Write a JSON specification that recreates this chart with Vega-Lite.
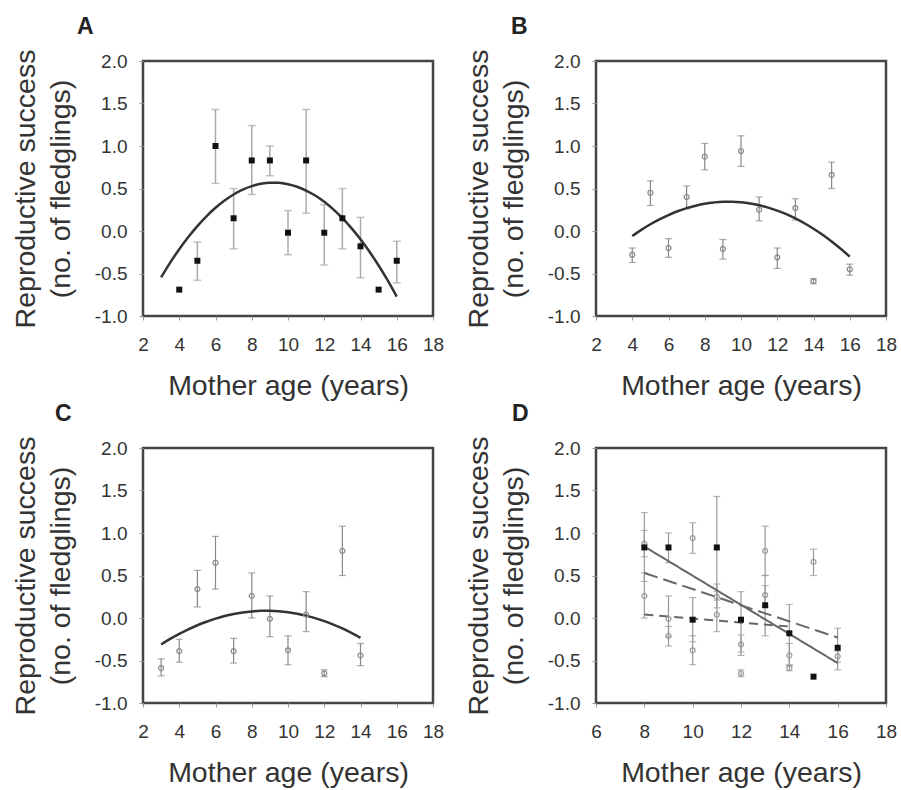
{
  "$schema": "https://vega.github.io/schema/vega-lite/v6.json",
  "background": "white",
  "padding": {"left": 10, "top": 14, "right": 5, "bottom": 2},
  "config": {
    "font": "Liberation Sans",
    "view": {"stroke": "#444", "strokeWidth": 2.5},
    "axis": {"grid": false, "domain": false, "ticks": true, "tickSize": 4, "tickColor": "#999", "labelFontSize": 19, "labelColor": "#333", "titleFontSize": 28.5, "titleFontWeight": "normal", "titleColor": "#333", "labelPadding": 12, "labelFont": "Liberation Sans", "titleFont": "Liberation Sans", "labelFlush": false, "labelOverlap": false},
    "axisY": {"titlePadding": 19, "titleLineHeight": 35, "labelExpr": "replace(datum.label, '\u2212', '-')"},
    "axisX": {"titlePadding": 17, "labelPadding": 15},
    "title": {"fontSize": 23, "fontWeight": "bold", "color": "#222", "anchor": "start", "frame": "group", "baseline": "alphabetic", "offset": 10}
  },
  "datasets": {
    "pts": [
      {"g": "A", "age": 4, "y": -0.69, "lo": -0.69, "hi": -0.69},
      {"g": "A", "age": 5, "y": -0.35, "lo": -0.58, "hi": -0.13},
      {"g": "A", "age": 6, "y": 1.0, "lo": 0.56, "hi": 1.43},
      {"g": "A", "age": 7, "y": 0.15, "lo": -0.21, "hi": 0.5},
      {"g": "A", "age": 8, "y": 0.83, "lo": 0.43, "hi": 1.24},
      {"g": "A", "age": 9, "y": 0.83, "lo": 0.65, "hi": 1.0},
      {"g": "A", "age": 10, "y": -0.02, "lo": -0.28, "hi": 0.24},
      {"g": "A", "age": 11, "y": 0.83, "lo": 0.21, "hi": 1.43},
      {"g": "A", "age": 12, "y": -0.02, "lo": -0.4, "hi": 0.31},
      {"g": "A", "age": 13, "y": 0.15, "lo": -0.21, "hi": 0.5},
      {"g": "A", "age": 14, "y": -0.18, "lo": -0.55, "hi": 0.16},
      {"g": "A", "age": 15, "y": -0.69, "lo": -0.69, "hi": -0.69},
      {"g": "A", "age": 16, "y": -0.35, "lo": -0.61, "hi": -0.12},
      {"g": "B", "age": 4, "y": -0.28, "lo": -0.37, "hi": -0.2},
      {"g": "B", "age": 5, "y": 0.45, "lo": 0.3, "hi": 0.59},
      {"g": "B", "age": 6, "y": -0.2, "lo": -0.31, "hi": -0.09},
      {"g": "B", "age": 7, "y": 0.4, "lo": 0.26, "hi": 0.53},
      {"g": "B", "age": 8, "y": 0.875, "lo": 0.72, "hi": 1.03},
      {"g": "B", "age": 9, "y": -0.21, "lo": -0.33, "hi": -0.1},
      {"g": "B", "age": 10, "y": 0.94, "lo": 0.76, "hi": 1.12},
      {"g": "B", "age": 11, "y": 0.25, "lo": 0.12, "hi": 0.4},
      {"g": "B", "age": 12, "y": -0.31, "lo": -0.44, "hi": -0.2},
      {"g": "B", "age": 13, "y": 0.27, "lo": 0.13, "hi": 0.38},
      {"g": "B", "age": 14, "y": -0.59, "lo": -0.62, "hi": -0.56},
      {"g": "B", "age": 15, "y": 0.66, "lo": 0.5, "hi": 0.81},
      {"g": "B", "age": 16, "y": -0.45, "lo": -0.52, "hi": -0.39},
      {"g": "C", "age": 3, "y": -0.59, "lo": -0.68, "hi": -0.48},
      {"g": "C", "age": 4, "y": -0.39, "lo": -0.52, "hi": -0.25},
      {"g": "C", "age": 5, "y": 0.34, "lo": 0.13, "hi": 0.56},
      {"g": "C", "age": 6, "y": 0.65, "lo": 0.34, "hi": 0.96},
      {"g": "C", "age": 7, "y": -0.39, "lo": -0.53, "hi": -0.24},
      {"g": "C", "age": 8, "y": 0.26, "lo": 0.0, "hi": 0.53},
      {"g": "C", "age": 9, "y": -0.01, "lo": -0.22, "hi": 0.26},
      {"g": "C", "age": 10, "y": -0.38, "lo": -0.55, "hi": -0.21},
      {"g": "C", "age": 11, "y": 0.04, "lo": -0.16, "hi": 0.31},
      {"g": "C", "age": 12, "y": -0.65, "lo": -0.69, "hi": -0.61},
      {"g": "C", "age": 13, "y": 0.79, "lo": 0.5, "hi": 1.08},
      {"g": "C", "age": 14, "y": -0.44, "lo": -0.56, "hi": -0.3}
    ],
    "curves": [
      {"g": "A", "age": 3, "y": -0.545}, {"g": "A", "age": 3.5, "y": -0.372}, {"g": "A", "age": 4, "y": -0.214}, {"g": "A", "age": 4.5, "y": -0.071},
      {"g": "A", "age": 5, "y": 0.058}, {"g": "A", "age": 5.5, "y": 0.173}, {"g": "A", "age": 6, "y": 0.273}, {"g": "A", "age": 6.5, "y": 0.359},
      {"g": "A", "age": 7, "y": 0.43}, {"g": "A", "age": 7.5, "y": 0.486}, {"g": "A", "age": 8, "y": 0.528}, {"g": "A", "age": 8.5, "y": 0.556},
      {"g": "A", "age": 9, "y": 0.569}, {"g": "A", "age": 9.5, "y": 0.567}, {"g": "A", "age": 10, "y": 0.551}, {"g": "A", "age": 10.5, "y": 0.521},
      {"g": "A", "age": 11, "y": 0.476}, {"g": "A", "age": 11.5, "y": 0.417}, {"g": "A", "age": 12, "y": 0.343}, {"g": "A", "age": 12.5, "y": 0.254},
      {"g": "A", "age": 13, "y": 0.151}, {"g": "A", "age": 13.5, "y": 0.034}, {"g": "A", "age": 14, "y": -0.098}, {"g": "A", "age": 14.5, "y": -0.245},
      {"g": "A", "age": 15, "y": -0.406}, {"g": "A", "age": 15.5, "y": -0.581}, {"g": "A", "age": 16, "y": -0.771},
      {"g": "B", "age": 4, "y": -0.06}, {"g": "B", "age": 4.5, "y": 0.013}, {"g": "B", "age": 5, "y": 0.079}, {"g": "B", "age": 5.5, "y": 0.137},
      {"g": "B", "age": 6, "y": 0.188}, {"g": "B", "age": 6.5, "y": 0.232}, {"g": "B", "age": 7, "y": 0.269}, {"g": "B", "age": 7.5, "y": 0.298},
      {"g": "B", "age": 8, "y": 0.321}, {"g": "B", "age": 8.5, "y": 0.336}, {"g": "B", "age": 9, "y": 0.344}, {"g": "B", "age": 9.5, "y": 0.344},
      {"g": "B", "age": 10, "y": 0.338}, {"g": "B", "age": 10.5, "y": 0.324}, {"g": "B", "age": 11, "y": 0.303}, {"g": "B", "age": 11.5, "y": 0.275},
      {"g": "B", "age": 12, "y": 0.24}, {"g": "B", "age": 12.5, "y": 0.198}, {"g": "B", "age": 13, "y": 0.148}, {"g": "B", "age": 13.5, "y": 0.091},
      {"g": "B", "age": 14, "y": 0.027}, {"g": "B", "age": 14.5, "y": -0.044}, {"g": "B", "age": 15, "y": -0.123}, {"g": "B", "age": 15.5, "y": -0.209},
      {"g": "B", "age": 16, "y": -0.301},
      {"g": "C", "age": 3, "y": -0.312}, {"g": "C", "age": 3.5, "y": -0.246}, {"g": "C", "age": 4, "y": -0.187}, {"g": "C", "age": 4.5, "y": -0.133},
      {"g": "C", "age": 5, "y": -0.085}, {"g": "C", "age": 5.5, "y": -0.044}, {"g": "C", "age": 6, "y": -0.008}, {"g": "C", "age": 6.5, "y": 0.023},
      {"g": "C", "age": 7, "y": 0.047}, {"g": "C", "age": 7.5, "y": 0.065}, {"g": "C", "age": 8, "y": 0.077}, {"g": "C", "age": 8.5, "y": 0.084},
      {"g": "C", "age": 9, "y": 0.085}, {"g": "C", "age": 9.5, "y": 0.079}, {"g": "C", "age": 10, "y": 0.068}, {"g": "C", "age": 10.5, "y": 0.051},
      {"g": "C", "age": 11, "y": 0.028}, {"g": "C", "age": 11.5, "y": -0.001}, {"g": "C", "age": 12, "y": -0.036}, {"g": "C", "age": 12.5, "y": -0.077},
      {"g": "C", "age": 13, "y": -0.123}, {"g": "C", "age": 13.5, "y": -0.176}, {"g": "C", "age": 14, "y": -0.234}
    ],
    "lines": [
      {"g": "A", "age": 8, "y": 0.84}, {"g": "A", "age": 16, "y": -0.53},
      {"g": "B", "age": 8, "y": 0.53}, {"g": "B", "age": 16, "y": -0.23},
      {"g": "C", "age": 8, "y": 0.04}, {"g": "C", "age": 14, "y": -0.1}
    ]
  },
  "columns": 2,
  "spacing": {"row": 0, "column": 18},
  "concat": [
    {
      "width": 290, "height": 255,
      "title": {"text": "A", "dx": -66},
      "encoding": {
        "x": {"field": "age", "type": "quantitative", "scale": {"domain": [2, 18], "nice": false}, "axis": {"values": [2, 4, 6, 8, 10, 12, 14, 16, 18], "title": "Mother age (years)"}},
        "y": {"field": "y", "type": "quantitative", "scale": {"domain": [-1, 2], "nice": false}, "axis": {"values": [-1, -0.5, 0, 0.5, 1, 1.5, 2], "format": ".1f", "title": ["Reproductive success", "(no. of fledglings)"]}}
      },
      "layer": [
        {"data": {"name": "pts"}, "transform": [{"filter": "datum.g == 'A' && datum.hi > datum.lo"}], "mark": {"type": "rule", "color": "#aaa", "strokeWidth": 1.5}, "encoding": {"y": {"field": "lo", "type": "quantitative"}, "y2": {"field": "hi"}}},
        {"data": {"name": "pts"}, "transform": [{"filter": "datum.g == 'A' && datum.hi > datum.lo"}], "mark": {"type": "tick", "orient": "horizontal", "color": "#aaa", "size": 8, "thickness": 1.5}, "encoding": {"y": {"field": "lo", "type": "quantitative"}}},
        {"data": {"name": "pts"}, "transform": [{"filter": "datum.g == 'A' && datum.hi > datum.lo"}], "mark": {"type": "tick", "orient": "horizontal", "color": "#aaa", "size": 8, "thickness": 1.5}, "encoding": {"y": {"field": "hi", "type": "quantitative"}}},
        {"data": {"name": "curves"}, "transform": [{"filter": "datum.g == 'A'"}], "mark": {"type": "line", "color": "#333", "strokeWidth": 2.5, "interpolate": "monotone"}, "encoding": {}},
        {"data": {"name": "pts"}, "transform": [{"filter": "datum.g == 'A'"}], "mark": {"type": "square", "color": "#111", "size": 36, "opacity": 1}, "encoding": {}}
      ]
    },
    {
      "width": 290, "height": 255,
      "title": {"text": "B", "dx": -85},
      "encoding": {
        "x": {"field": "age", "type": "quantitative", "scale": {"domain": [2, 18], "nice": false}, "axis": {"values": [2, 4, 6, 8, 10, 12, 14, 16, 18], "title": "Mother age (years)"}},
        "y": {"field": "y", "type": "quantitative", "scale": {"domain": [-1, 2], "nice": false}, "axis": {"values": [-1, -0.5, 0, 0.5, 1, 1.5, 2], "format": ".1f", "title": ["Reproductive success", "(no. of fledglings)"]}}
      },
      "layer": [
        {"data": {"name": "pts"}, "transform": [{"filter": "datum.g == 'B'"}], "mark": {"type": "rule", "color": "#888", "strokeWidth": 1.2}, "encoding": {"y": {"field": "lo", "type": "quantitative"}, "y2": {"field": "hi"}}},
        {"data": {"name": "pts"}, "transform": [{"filter": "datum.g == 'B'"}], "mark": {"type": "tick", "orient": "horizontal", "color": "#888", "size": 7, "thickness": 1.2}, "encoding": {"y": {"field": "lo", "type": "quantitative"}}},
        {"data": {"name": "pts"}, "transform": [{"filter": "datum.g == 'B'"}], "mark": {"type": "tick", "orient": "horizontal", "color": "#888", "size": 7, "thickness": 1.2}, "encoding": {"y": {"field": "hi", "type": "quantitative"}}},
        {"data": {"name": "curves"}, "transform": [{"filter": "datum.g == 'B'"}], "mark": {"type": "line", "color": "#333", "strokeWidth": 2.5, "interpolate": "monotone"}, "encoding": {}},
        {"data": {"name": "pts"}, "transform": [{"filter": "datum.g == 'B'"}], "mark": {"type": "point", "shape": "circle", "filled": false, "color": "#888", "size": 25, "strokeWidth": 1.2, "opacity": 1}, "encoding": {}}
      ]
    },
    {
      "width": 290, "height": 255,
      "title": {"text": "C", "dx": -88},
      "encoding": {
        "x": {"field": "age", "type": "quantitative", "scale": {"domain": [2, 18], "nice": false}, "axis": {"values": [2, 4, 6, 8, 10, 12, 14, 16, 18], "title": "Mother age (years)"}},
        "y": {"field": "y", "type": "quantitative", "scale": {"domain": [-1, 2], "nice": false}, "axis": {"values": [-1, -0.5, 0, 0.5, 1, 1.5, 2], "format": ".1f", "title": ["Reproductive success", "(no. of fledglings)"]}}
      },
      "layer": [
        {"data": {"name": "pts"}, "transform": [{"filter": "datum.g == 'C'"}], "mark": {"type": "rule", "color": "#888", "strokeWidth": 1.2}, "encoding": {"y": {"field": "lo", "type": "quantitative"}, "y2": {"field": "hi"}}},
        {"data": {"name": "pts"}, "transform": [{"filter": "datum.g == 'C'"}], "mark": {"type": "tick", "orient": "horizontal", "color": "#888", "size": 7, "thickness": 1.2}, "encoding": {"y": {"field": "lo", "type": "quantitative"}}},
        {"data": {"name": "pts"}, "transform": [{"filter": "datum.g == 'C'"}], "mark": {"type": "tick", "orient": "horizontal", "color": "#888", "size": 7, "thickness": 1.2}, "encoding": {"y": {"field": "hi", "type": "quantitative"}}},
        {"data": {"name": "curves"}, "transform": [{"filter": "datum.g == 'C'"}], "mark": {"type": "line", "color": "#333", "strokeWidth": 2.5, "interpolate": "monotone"}, "encoding": {}},
        {"data": {"name": "pts"}, "transform": [{"filter": "datum.g == 'C'"}], "mark": {"type": "point", "shape": "circle", "filled": false, "color": "#888", "size": 25, "strokeWidth": 1.2, "opacity": 1}, "encoding": {}}
      ]
    },
    {
      "width": 290, "height": 255,
      "title": {"text": "D", "dx": -84},
      "encoding": {
        "x": {"field": "age", "type": "quantitative", "scale": {"domain": [6, 18], "nice": false}, "axis": {"values": [6, 8, 10, 12, 14, 16, 18], "title": "Mother age (years)"}},
        "y": {"field": "y", "type": "quantitative", "scale": {"domain": [-1, 2], "nice": false}, "axis": {"values": [-1, -0.5, 0, 0.5, 1, 1.5, 2], "format": ".1f", "title": ["Reproductive success", "(no. of fledglings)"]}}
      },
      "layer": [
        {"data": {"name": "pts"}, "transform": [{"filter": "datum.age >= 8 && datum.hi > datum.lo"}], "mark": {"type": "rule", "color": "#999", "strokeWidth": 1.2}, "encoding": {"y": {"field": "lo", "type": "quantitative"}, "y2": {"field": "hi"}}},
        {"data": {"name": "pts"}, "transform": [{"filter": "datum.age >= 8 && datum.hi > datum.lo"}], "mark": {"type": "tick", "orient": "horizontal", "color": "#999", "size": 7, "thickness": 1.2}, "encoding": {"y": {"field": "lo", "type": "quantitative"}}},
        {"data": {"name": "pts"}, "transform": [{"filter": "datum.age >= 8 && datum.hi > datum.lo"}], "mark": {"type": "tick", "orient": "horizontal", "color": "#999", "size": 7, "thickness": 1.2}, "encoding": {"y": {"field": "hi", "type": "quantitative"}}},
        {"data": {"name": "lines"}, "mark": {"type": "line", "color": "#666", "strokeWidth": 2}, "encoding": {"detail": {"field": "g"}, "strokeDash": {"field": "g", "type": "nominal", "scale": {"domain": ["A", "B", "C"], "range": [[1, 0], [14, 6], [9, 6]]}, "legend": null}}},
        {"data": {"name": "pts"}, "transform": [{"filter": "datum.age >= 8 && datum.g != 'A'"}], "mark": {"type": "point", "shape": "circle", "filled": false, "color": "#999", "size": 25, "strokeWidth": 1.2, "opacity": 1}, "encoding": {}},
        {"data": {"name": "pts"}, "transform": [{"filter": "datum.age >= 8 && datum.g == 'A'"}], "mark": {"type": "square", "color": "#111", "size": 36, "opacity": 1}, "encoding": {}}
      ]
    }
  ]
}
